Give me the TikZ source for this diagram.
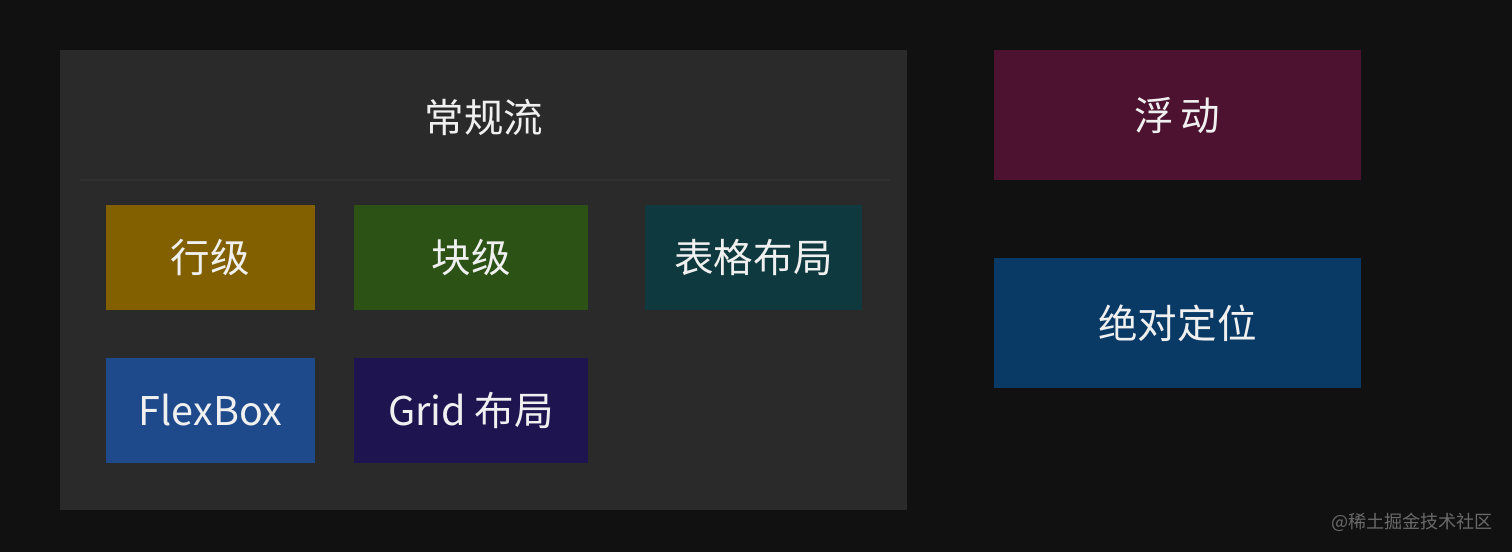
\documentclass[tikz,border=0pt]{standalone}
\usepackage{fontspec}
\setmainfont{Noto Sans CJK SC}
\usetikzlibrary{positioning}
\definecolor{bgdark}{HTML}{111111}
\definecolor{flowbg}{HTML}{2A2A2A}
\definecolor{rulegray}{HTML}{313131}
\definecolor{inlinec}{HTML}{826000}
\definecolor{blockc}{HTML}{2C5216}
\definecolor{tablec}{HTML}{0E393E}
\definecolor{flexc}{HTML}{1E4A8C}
\definecolor{gridc}{HTML}{1D1450}
\definecolor{floatc}{HTML}{4C1230}
\definecolor{absc}{HTML}{093A66}
\definecolor{marktext}{HTML}{6A6A6A}
\tikzset{
  layout/.style={inner sep=0pt, text=white!94!black, font=\fontsize{22.5}{26}\selectfont},
  small/.style={layout, minimum width=4.18cm, minimum height=2.1cm},
  wide/.style={layout, minimum width=4.68cm, minimum height=2.1cm},
  side/.style={layout, minimum width=7.34cm, minimum height=2.6cm}
}

\begin{document}
\begin{tikzpicture}[x=0.02cm, y=-0.02cm]
	%%%%% BACKGROUND %%%%%
	\fill[bgdark] (0, 0) rectangle (1512, 552);
	\useasboundingbox (0, 0) rectangle (1512, 552);
	
	%%%%% NORMAL FLOW %%%%%
	\fill[flowbg] (60, 50) rectangle (907, 510);
	\node[layout] (flow) at (484, 117) {常规流};
	\draw[rulegray, line width=0.6pt] (80, 180) -- (890, 180);
	
	\node[small, fill=inlinec] (inline) at (210.5, 257.5) {行级};
	\node[wide, fill=blockc] (block) at (471, 257.5) {块级};
	\node[layout, fill=tablec, minimum width=4.34cm, minimum height=2.1cm] (table) at (753.5, 257.5) {表格布局};
	
	\node[small, fill=flexc] (flex) at (210.5, 410.5) {FlexBox};
	\node[wide, fill=gridc] (grid) at (471, 410.5) {Grid 布局};
	
	%%%%% OUT OF FLOW %%%%%
	\node[side, fill=floatc] (float) at (1177.5, 115) {浮\,动};
	\node[side, fill=absc] (absolute) at (1177.5, 323) {绝对定位};
	
	\node[text=marktext, inner sep=0pt, font=\fontsize{10.3}{12}\selectfont] (mark) at (1412, 522) {@稀土掘金技术社区};
\end{tikzpicture}
\end{document}
